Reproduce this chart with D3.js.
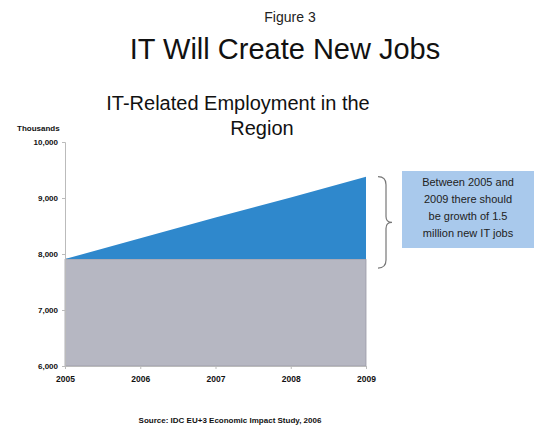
<!DOCTYPE html>
<html>
<head>
<meta charset="utf-8">
<script src="https://cdn.jsdelivr.net/npm/d3@7"></script>
<style>
  body { margin: 0; background: #fff; }
  svg { font-family: "Liberation Sans", Arial, sans-serif; }
</style>
</head>
<body>
<div id="chart"></div>
<script>
// data (thousands of jobs)
const years = [2005, 2006, 2007, 2008, 2009];
const baseEmployment = [7910, 7910, 7910, 7910, 7910];
const totalEmployment = [7910, 8280, 8650, 9010, 9380];
const yTicks = [6000, 7000, 8000, 9000, 10000];
const noteLines = ["Between 2005 and", "2009 there should", "be growth of 1.5", "million new IT jobs"];

const width = 539, height = 429;
const margin = {top: 142, right: 173, bottom: 63, left: 65};

const svg = d3.select("#chart").append("svg")
    .attr("width", width)
    .attr("height", height);

const x = d3.scaleLinear()
    .domain([2005, 2009])
    .range([margin.left, width - margin.right]);

const y = d3.scaleLinear()
    .domain([6000, 10000])
    .range([height - margin.bottom, margin.top]);

// Titles
svg.append("text").attr("x", 290).attr("y", 22).attr("text-anchor", "middle")
    .style("font-size", "14px").style("fill", "#222").text("Figure 3");
svg.append("text").attr("x", 285).attr("y", 59).attr("text-anchor", "middle")
    .style("font-size", "29px").style("fill", "#111").text("IT Will Create New Jobs");
svg.append("text").attr("x", 238).attr("y", 110).attr("text-anchor", "middle")
    .style("font-size", "20px").style("fill", "#111").text("IT-Related Employment in the");
svg.append("text").attr("x", 262).attr("y", 135).attr("text-anchor", "middle")
    .style("font-size", "20px").style("fill", "#111").text("Region");

svg.append("text").attr("x", 17).attr("y", 131)
    .style("font-size", "8px").style("font-weight", "bold").style("fill", "#111").text("Thousands");

// Areas
const rows = years.map((yr, i) => ({year: yr, base: baseEmployment[i], total: totalEmployment[i]}));

const grayArea = d3.area()
    .x(d => x(d.year))
    .y0(y(6000))
    .y1(d => y(d.base));

const blueArea = d3.area()
    .x(d => x(d.year))
    .y0(d => y(d.base))
    .y1(d => y(d.total));

svg.append("path").datum(rows).attr("d", grayArea)
    .style("fill", "#b6b7c2").style("stroke", "#9a9ba6").style("stroke-width", 0.8);
svg.append("path").datum(rows).attr("d", blueArea)
    .style("fill", "#2f88cc");

// Axes
const yAxis = svg.append("g")
    .attr("transform", `translate(${margin.left},0)`)
    .call(d3.axisLeft(y).tickValues(yTicks).tickFormat(d3.format(",")).tickSize(3));
yAxis.select(".domain").style("stroke", "#bbb");
yAxis.selectAll(".tick line").style("stroke", "#bbb");
yAxis.selectAll("text").style("font-size", "8px").style("font-weight", "bold").style("fill", "#111")
    .attr("x", -7);

const xAxis = svg.append("g")
    .attr("transform", `translate(0,${y(6000)})`)
    .call(d3.axisBottom(x).tickValues(years).tickFormat(d3.format("d")).tickSize(3));
xAxis.select(".domain").style("stroke", "#bbb");
xAxis.selectAll(".tick line").style("stroke", "#bbb");
xAxis.selectAll("text").style("font-size", "8.5px").style("font-weight", "bold").style("fill", "#111")
    .attr("y", 10);

// Brace
const bx = x(2009) + 12;
const braceTop = y(totalEmployment[4]), braceBot = y(baseEmployment[4]) + 9;
const braceMid = (braceTop + braceBot) / 2;
svg.append("path")
    .attr("d", `M${bx},${braceTop} q8,0 8,8 L${bx + 8},${braceMid - 6} q0,6 6,6 q-6,0 -6,6 L${bx + 8},${braceBot - 8} q0,8 -8,8`)
    .style("fill", "none").style("stroke", "#777").style("stroke-width", 1.2);

// Note box
svg.append("rect").attr("x", 402).attr("y", 171).attr("width", 132).attr("height", 77)
    .style("fill", "#a9c9ec");
svg.append("g").selectAll("text").data(noteLines).join("text")
    .attr("x", 468).attr("y", (d, i) => 186 + i * 17)
    .attr("text-anchor", "middle")
    .style("font-size", "11px").style("fill", "#222")
    .text(d => d);

// Source
svg.append("text").attr("x", 230).attr("y", 423).attr("text-anchor", "middle")
    .style("font-size", "8px").style("font-weight", "bold").style("fill", "#111")
    .text("Source: IDC EU+3 Economic Impact Study, 2006");
</script>
</body>
</html>
